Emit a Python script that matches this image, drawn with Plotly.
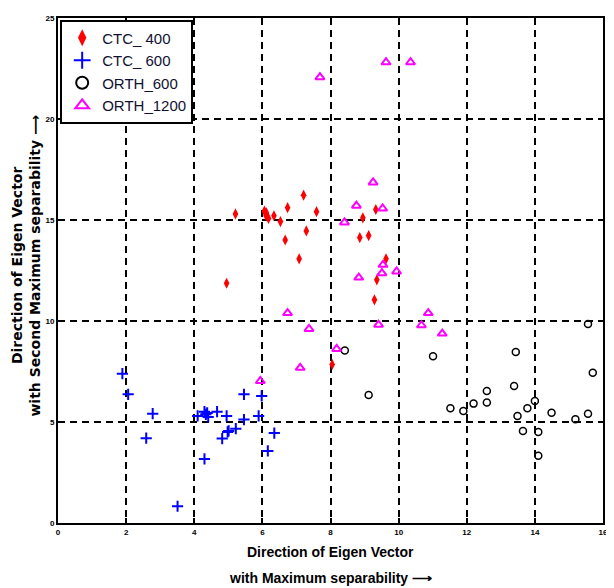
import plotly.graph_objects as go

# ---- data ----
ctc400_x = [4.95, 5.21, 6.06, 6.11, 6.18, 6.34, 6.53, 6.67, 6.74, 7.08, 7.21, 7.29, 7.59,
            8.05, 8.95, 9.33, 8.86, 9.12, 9.63, 9.36, 9.29, 6.12]
ctc400_y = [11.87, 15.30, 15.44, 15.21, 15.08, 15.21, 14.92, 14.01, 15.61, 13.08, 16.23, 14.46, 15.41,
            7.85, 15.11, 15.52, 14.13, 14.23, 13.08, 12.04, 11.05, 15.35]

ctc600_x = [1.89, 2.06, 2.78, 2.59, 3.51, 4.10, 4.30, 4.34, 4.41, 4.30, 4.67, 4.95, 4.82, 4.98,
            5.01, 5.22, 5.46, 5.46, 5.89, 5.98, 6.35, 6.16, 4.38]
ctc600_y = [7.39, 6.37, 5.41, 4.20, 0.83, 5.30, 5.51, 5.38, 5.25, 3.17, 5.51, 5.30, 4.18, 4.51,
            4.56, 4.67, 6.37, 5.12, 5.30, 6.29, 4.45, 3.57, 5.45]

orth600_x = [8.42, 9.12, 11.01, 11.52, 11.90, 12.20, 12.59, 12.59, 13.44, 13.39, 13.49, 13.65,
             13.78, 14.00, 14.10, 14.10, 14.49, 15.19, 15.56, 15.56, 15.70]
orth600_y = [8.54, 6.34, 8.26, 5.68, 5.55, 5.91, 6.53, 5.96, 8.47, 6.78, 5.30, 4.56,
             5.68, 6.04, 4.51, 3.33, 5.46, 5.14, 5.41, 9.85, 7.44]

orth1200_x = [5.94, 6.74, 7.11, 7.37, 7.69, 8.18, 8.41, 8.76, 8.83, 9.25, 9.41, 9.51, 9.54, 9.53,
              9.63, 9.94, 10.35, 10.67, 10.87, 11.28]
orth1200_y = [7.03, 10.39, 7.68, 9.61, 22.07, 8.62, 14.88, 15.71, 12.15, 16.86, 9.82, 12.37, 12.78, 15.57,
              22.81, 12.45, 22.81, 9.79, 10.39, 9.38]

x_ticks = [0, 2, 4, 6, 8, 10, 12, 14, 16]
y_ticks = [0, 5, 10, 15, 20, 25]

fig = go.Figure()
fig.add_trace(go.Scatter(x=ctc400_x, y=ctc400_y, mode="markers", name="CTC_ 400",
                         marker=dict(symbol="diamond-tall", size=8, color="#ff0000",
                                     line=dict(width=0))))
fig.add_trace(go.Scatter(x=ctc600_x, y=ctc600_y, mode="markers", name="CTC_ 600",
                         marker=dict(symbol="cross-thin", size=8, color="#0000ff",
                                     line=dict(width=2, color="#0000ff"))))
fig.add_trace(go.Scatter(x=orth600_x, y=orth600_y, mode="markers", name="ORTH_600",
                         marker=dict(symbol="circle-open", size=7, color="#000000",
                                     line=dict(width=1.5, color="#000000"))))
fig.add_trace(go.Scatter(x=orth1200_x, y=orth1200_y, mode="markers", name="ORTH_1200",
                         marker=dict(symbol="triangle-up-open", size=8, color="#ff00ff",
                                     line=dict(width=2, color="#ff00ff"))))

axis_common = dict(
    showline=True, linewidth=2, linecolor="black", mirror="ticks",
    ticks="inside", ticklen=5, tickwidth=2, tickcolor="black",
    showgrid=True, gridcolor="black", gridwidth=2, griddash="7px,5px",
    zeroline=False,
    tickfont=dict(family="Liberation Sans", size=8, color="black", weight="bold"),
)

fig.update_xaxes(range=[0, 16], tickvals=x_ticks, ticktext=[str(v) for v in x_ticks], **axis_common)
fig.update_yaxes(range=[0, 25], tickvals=y_ticks, ticktext=[str(v) for v in y_ticks], **axis_common)

title_font = dict(family="Liberation Sans", size=14, color="black", weight="bold")
ytitle_font = dict(family="DejaVu Sans", size=14, color="black", weight="bold")

fig.update_layout(
    width=606, height=580,
    margin=dict(l=50, r=6, t=8, b=65),
    plot_bgcolor="white", paper_bgcolor="white",
    showlegend=True,
    legend=dict(x=0.004, y=0.997, xanchor="left", yanchor="top",
                bgcolor="white", bordercolor="black", borderwidth=2,
                font=dict(family="Liberation Sans", size=15, color="#111133"),
                itemsizing="constant"),
    annotations=[
        dict(text="Direction of Eigen Vector", xref="paper", yref="paper",
             x=0.5, y=-0.058, xanchor="center", yanchor="middle",
             showarrow=False, font=title_font),
        dict(text="with Maximum separability \u27f6", xref="paper", yref="paper",
             x=0.5, y=-0.108, xanchor="center", yanchor="middle",
             showarrow=False, font=title_font),
        dict(text="Direction of Eigen Vector", xref="paper", yref="paper",
             x=-0.075, y=0.511, xanchor="center", yanchor="middle", textangle=-90,
             showarrow=False, font=ytitle_font),
        dict(text="with Second Maximum separability \u27f6", xref="paper", yref="paper",
             x=-0.042, y=0.51, xanchor="center", yanchor="middle", textangle=-90,
             showarrow=False, font=ytitle_font),
    ],
)

fig.write_html("out.html")
